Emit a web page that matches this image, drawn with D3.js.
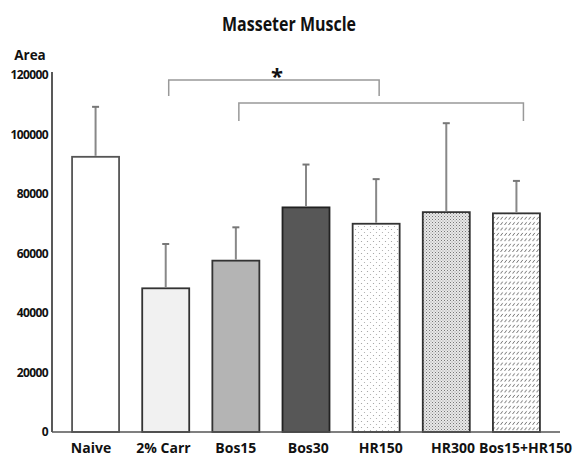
<!DOCTYPE html>
<html>
<head>
<meta charset="utf-8">
<script src="https://cdn.jsdelivr.net/npm/d3@7"></script>
<style>
  html, body { margin: 0; padding: 0; background: #fff; }
  svg { display: block; }
  text { font-family: "Open Sans", "Noto Sans", sans-serif; font-weight: bold; fill: #111; }
</style>
</head>
<body>
<svg id="chart" width="580" height="460"></svg>
<script>
// ---- data ----
const categories = ["Naive", "2% Carr", "Bos15", "Bos30", "HR150", "HR300", "Bos15+HR150"];
const means      = [92500, 48300, 57600, 75500, 70000, 73900, 73500];
const upperErr   = [109300, 63200, 68800, 89900, 85000, 103800, 84400];
const yTicks     = [0, 20000, 40000, 60000, 80000, 100000, 120000];
const brackets   = [
  { from: "2% Carr", to: "HR150",        top: 118300, legBottom: 112900, star: true },
  { from: "Bos15",   to: "Bos15+HR150",  top: 110600, legBottom: 104500, star: false }
];
const title = "Masseter Muscle";
const yTitle = "Area";

// ---- styles ----
const fills = ["#ffffff", "#f1f1f1", "#b4b4b4", "#575757", "url(#pDots)", "url(#pFine)", "url(#pDash)"];
const strokes = ["#555", "#333", "#333", "#222", "#333", "#333", "#333"];

const svg = d3.select("#chart");
const defs = svg.append("defs");

// sparse dots
const p1 = defs.append("pattern").attr("id", "pDots").attr("patternUnits", "userSpaceOnUse")
  .attr("width", 6).attr("height", 6);
p1.append("rect").attr("width", 6).attr("height", 6).attr("fill", "#fff");
p1.append("circle").attr("cx", 1.5).attr("cy", 1.5).attr("r", 0.6).attr("fill", "#999");
p1.append("circle").attr("cx", 4.5).attr("cy", 4.5).attr("r", 0.6).attr("fill", "#aaa");

// fine dense dots
const p2 = defs.append("pattern").attr("id", "pFine").attr("patternUnits", "userSpaceOnUse")
  .attr("width", 3).attr("height", 3);
p2.append("rect").attr("width", 3).attr("height", 3).attr("fill", "#e8e8e8");
p2.append("rect").attr("x", 0).attr("y", 0).attr("width", 1).attr("height", 1).attr("fill", "#777");
p2.append("rect").attr("x", 1.5).attr("y", 1.5).attr("width", 1).attr("height", 1).attr("fill", "#999");

// rows of slanted dashes
const p3 = defs.append("pattern").attr("id", "pDash").attr("patternUnits", "userSpaceOnUse")
  .attr("width", 4).attr("height", 5.4);
p3.append("rect").attr("width", 4).attr("height", 5.4).attr("fill", "#fff");
p3.append("line").attr("x1", 0.5).attr("y1", 3.6).attr("x2", 2.8).attr("y2", 0.8)
  .attr("stroke", "#666").attr("stroke-width", 0.9);

// ---- scales ----
const y = d3.scaleLinear().domain([0, 120000]).range([432, 75]);
const x = d3.scaleBand().domain(categories).range([37, 575]).paddingInner(0.33).paddingOuter(0.5);
const xLab = d3.scalePoint().domain(categories).range([90.5, 525]);
const bw = x.bandwidth();

// ---- title ----
svg.append("text").attr("x", 289).attr("y", 31).attr("text-anchor", "middle")
  .attr("font-size", 19).attr("textLength", 134).attr("lengthAdjust", "spacingAndGlyphs")
  .text(title);

svg.append("text").attr("x", 30).attr("y", 60).attr("text-anchor", "middle")
  .attr("font-size", 13.5).text(yTitle);

// ---- y axis ----
const yAxis = d3.axisLeft(y).tickValues(yTicks).tickSize(0).tickPadding(4).tickFormat(d3.format("d"));
const gy = svg.append("g").attr("transform", "translate(52,0)").call(yAxis);
gy.select(".domain").remove();
gy.selectAll("text").attr("font-size", 12).attr("letter-spacing", -0.6)
  .style("font-family", "'Open Sans', sans-serif").style("font-weight", "bold").attr("fill", "#111");
svg.append("line").attr("x1", 52).attr("x2", 52).attr("y1", y(0)).attr("y2", y(120000) - 3)
  .attr("stroke", "#222").attr("stroke-width", 1.5);

// ---- bars ----
svg.selectAll("rect.bar").data(categories).join("rect").attr("class", "bar")
  .attr("x", d => x(d)).attr("width", bw)
  .attr("y", (d, i) => y(means[i])).attr("height", (d, i) => y(0) - y(means[i]))
  .attr("fill", (d, i) => fills[i]).attr("stroke", (d, i) => strokes[i]).attr("stroke-width", 1.8);

// ---- error bars ----
const eg = svg.append("g").attr("stroke", "#888").attr("stroke-width", 2);
categories.forEach((c, i) => {
  const cx = x(c) + bw / 2;
  eg.append("line").attr("x1", cx).attr("x2", cx).attr("y1", y(means[i]) - 1).attr("y2", y(upperErr[i]));
  eg.append("line").attr("x1", cx - 3.5).attr("x2", cx + 3.5).attr("y1", y(upperErr[i])).attr("y2", y(upperErr[i]))
    .attr("stroke", "#777");
});

// ---- x axis ----
svg.append("line").attr("x1", 52).attr("x2", 560).attr("y1", y(0)).attr("y2", y(0))
  .attr("stroke", "#555").attr("stroke-width", 1.6);
const xAxis = d3.axisBottom(xLab).tickSize(0).tickPadding(11);
const gx = svg.append("g").attr("transform", `translate(0,${y(0)})`).call(xAxis);
gx.select(".domain").remove();
gx.selectAll("text").attr("font-size", 14)
  .style("font-family", "'Open Sans', sans-serif").style("font-weight", "bold").attr("fill", "#111");

// ---- significance brackets ----
const bg = svg.append("g").attr("fill", "none").attr("stroke", "#999").attr("stroke-width", 1.5);
brackets.forEach((b, k) => {
  const x1 = x(b.from) + bw / 2 + 3;
  const x2 = x(b.to) + bw / 2 + (k === 1 ? 7 : 3);
  bg.append("path").attr("d", `M${x1},${y(b.legBottom)}V${y(b.top)}H${x2}V${y(b.legBottom)}`);
  if (b.star) {
    svg.append("text").attr("x", (x1 + x2) / 2 + 3).attr("y", y(b.top) + 4).attr("text-anchor", "middle")
      .attr("font-size", 22).text("*");
  }
});
</script>
</body>
</html>
